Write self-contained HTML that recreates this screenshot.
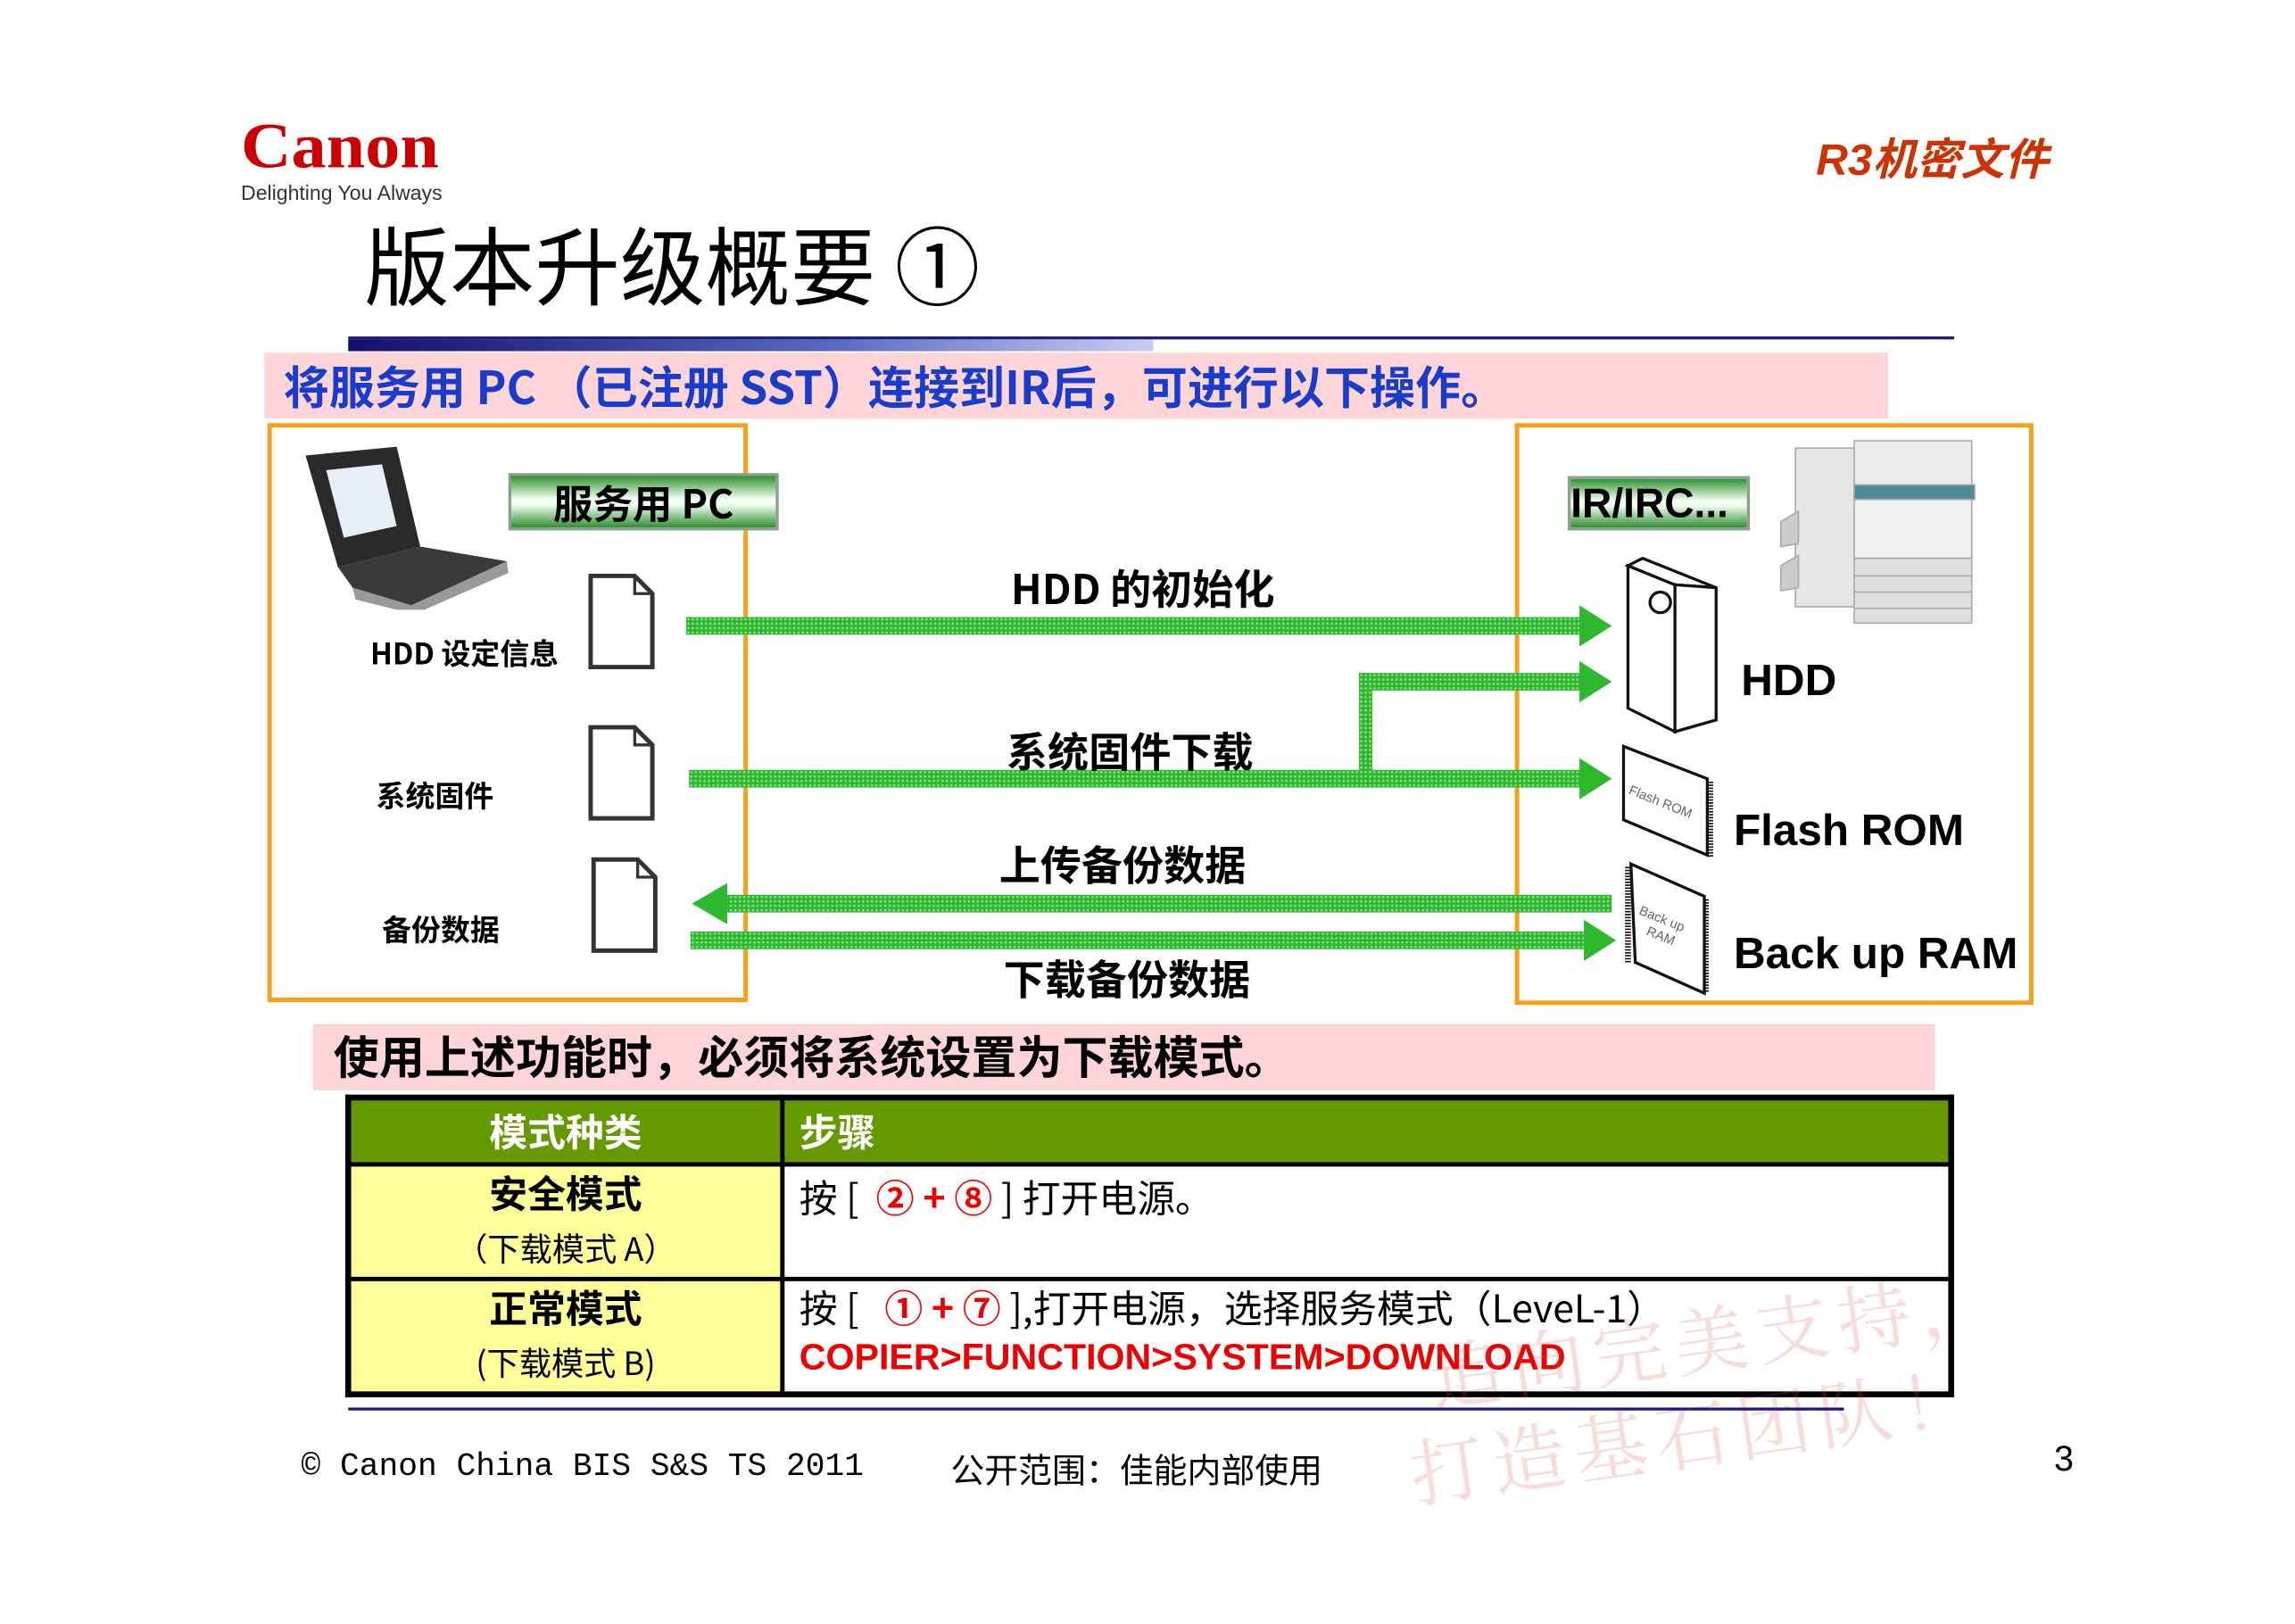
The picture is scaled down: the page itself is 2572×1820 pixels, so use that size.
<!DOCTYPE html>
<html><head><meta charset="utf-8">
<style>
html,body{margin:0;padding:0;background:#fff;}
body{width:2572px;height:1820px;overflow:hidden;position:relative;}
#w{position:absolute;left:0;top:0;width:1562px;height:1105px;transform:scale(1.6466);transform-origin:0 0;font-family:"Liberation Sans","Noto Sans CJK SC",sans-serif;}
.a{position:absolute;white-space:nowrap;}
.b{font-weight:bold;}
.lbl{font-family:"Noto Sans CJK SC","WenQuanYi Zen Hei",sans-serif;font-weight:bold;}
.box{position:absolute;border:3px solid #f7a01c;}
.glab{position:absolute;background:linear-gradient(#2f8f2f,#f4fff4 45%,#f4fff4 55%,#2f8f2f);border:2px solid #8aa08a;font-weight:bold;color:#000;text-align:center;}
.bar{position:absolute;height:12px;background-color:#2eb82e;background-image:radial-gradient(#8fe08f 35%,transparent 40%);background-size:3px 3px;}
.doc{position:absolute;width:46px;height:66px;}
td{border:3px solid #000;}
</style></head><body><div id="w">
<div class="a b" style="left:164px;top:74px;font-family:'Liberation Serif',serif;font-size:44px;color:#cc0000;letter-spacing:0px;transform:scaleX(1.08);transform-origin:0 0;">Canon</div>
<div class="a" style="left:164px;top:123px;font-size:14px;color:#333;">Delighting You Always</div>
<div class="a b" style="left:1236px;top:84px;font-size:30px;color:#cc3300;font-style:italic;">R3机密文件</div>
<div class="a" style="left:248px;top:136px;font-size:58px;color:#000;font-family:'Noto Sans CJK SC',sans-serif;">版本升级概要 ①</div>
<div class="a" style="left:237px;top:229px;width:1093px;height:2px;background:#1a1a80;"></div>
<div class="a" style="left:237px;top:231px;width:548px;height:8px;background:linear-gradient(90deg,#10106a,#5868c0 60%,#c8d0f0);"></div>
<div class="a" style="left:180px;top:240px;width:1105px;height:45px;background:#fdd5d8;"></div>
<div class="a lbl" style="left:193px;top:239px;font-size:31px;color:#1a3ccc;">将服务用 PC （已注册 SST）连接到IR后，可进行以下操作。</div>

<div class="box" style="left:182px;top:288px;width:321px;height:388px;"></div>
<div class="box" style="left:1031px;top:288px;width:347px;height:390px;"></div>

<svg class="a" style="left:200px;top:300px" width="150" height="115">
<polygon points="8,10 70,4 86,72 30,86" fill="#2a2a2a"/>
<polygon points="22,20 60,16 70,58 34,66" fill="#e8eef8"/>
<polygon points="30,86 86,72 145,82 80,112 40,100" fill="#3a3a3a"/>
<polygon points="40,100 80,112 145,82 146,90 82,118 42,108" fill="#999"/>
</svg>
<div class="glab" style="left:346px;top:322px;width:180px;height:35px;font-size:27px;line-height:35px;" ><span class="lbl">服务用 PC</span></div>
<div class="glab" style="left:1067px;top:324px;width:120px;height:33px;font-size:28px;line-height:34px;text-align:left;">IR/IRC...</div>

<svg class="doc" style="left:400px;top:390px" viewBox="0 0 46 66"><path d="M2,2 H32 L44,14 V64 H2 Z" fill="#fff" stroke="#333" stroke-width="3"/><path d="M32,2 V14 H44" fill="none" stroke="#333" stroke-width="2"/></svg>
<svg class="doc" style="left:400px;top:493px" viewBox="0 0 46 66"><path d="M2,2 H32 L44,14 V64 H2 Z" fill="#fff" stroke="#333" stroke-width="3"/><path d="M32,2 V14 H44" fill="none" stroke="#333" stroke-width="2"/></svg>
<svg class="doc" style="left:402px;top:583px" viewBox="0 0 46 66"><path d="M2,2 H32 L44,14 V64 H2 Z" fill="#fff" stroke="#333" stroke-width="3"/><path d="M32,2 V14 H44" fill="none" stroke="#333" stroke-width="2"/></svg>
<div class="a lbl" style="left:252px;top:429px;font-size:20px;">HDD 设定信息</div>
<div class="a lbl" style="left:256px;top:526px;font-size:20px;">系统固件</div>
<div class="a lbl" style="left:260px;top:617px;font-size:20px;">备份数据</div>

<div class="bar" style="left:467px;top:420px;width:610px;"></div>
<div class="bar" style="left:925px;top:458px;width:152px;"></div>
<div class="bar" style="left:925px;top:458px;width:9px;height:76px;"></div>
<div class="bar" style="left:469px;top:524px;width:608px;"></div>
<div class="bar" style="left:490px;top:609px;width:607px;"></div>
<div class="bar" style="left:470px;top:634px;width:610px;"></div>
<svg class="a" style="left:0;top:0" width="1562" height="1105">
<g fill="#2eb82e">
<polygon points="1075,412 1097,426 1075,440"/>
<polygon points="1075,450 1097,464 1075,478"/>
<polygon points="1075,516 1097,530 1075,544"/>
<polygon points="495,601 471,615 495,629"/>
<polygon points="1078,626 1100,640 1078,654"/>
</g>
<g fill="#fff" stroke="#111" stroke-width="2">
<polygon points="1108,385 1140,398 1140,498 1108,482"/>
<polygon points="1108,385 1118,380 1168,400 1140,398"/>
<polygon points="1140,398 1168,400 1168,490 1140,498"/>
<circle cx="1130" cy="410" r="7"/>
<polygon points="1105,508 1162,530 1162,582 1105,558"/>
<polygon points="1110,588 1160,610 1160,676 1113,655"/>
</g>
<g stroke="#111" stroke-width="4" stroke-dasharray="1,1"><line x1="1164" y1="532" x2="1164" y2="584"/><line x1="1161" y1="612" x2="1161" y2="676"/><line x1="1108" y1="590" x2="1108" y2="655"/></g>
<text x="1108" y="540" font-size="9" fill="#666" transform="rotate(22 1108 540)" font-family="Liberation Sans">Flash ROM</text>
<text x="1115" y="622" font-size="9" fill="#666" transform="rotate(22 1115 622)" font-family="Liberation Sans">Back up</text>
<text x="1120" y="636" font-size="9" fill="#666" transform="rotate(22 1120 636)" font-family="Liberation Sans">RAM</text>
<g stroke="#aaa" stroke-width="1">
<rect x="1222" y="305" width="44" height="108" fill="#e6e6e6"/>
<polygon points="1212,355 1224,348 1224,370 1212,372" fill="#ccc"/>
<polygon points="1212,385 1224,378 1224,400 1212,402" fill="#ccc"/>
<rect x="1262" y="300" width="80" height="40" fill="#ececec"/>
<rect x="1262" y="330" width="82" height="10" fill="#4e8a96"/>
<rect x="1262" y="340" width="80" height="40" fill="#f0f0f0"/>
<rect x="1262" y="380" width="80" height="44" fill="#e0e0e0"/>
<line x1="1262" y1="392" x2="1342" y2="392"/><line x1="1262" y1="403" x2="1342" y2="403"/><line x1="1262" y1="414" x2="1342" y2="414"/>
</g>
</svg>
<div class="a lbl" style="left:688px;top:380px;font-size:28px;">HDD 的初始化</div>
<div class="a lbl" style="left:685px;top:491px;font-size:28px;">系统固件下载</div>
<div class="a lbl" style="left:680px;top:568px;font-size:28px;">上传备份数据</div>
<div class="a lbl" style="left:683px;top:646px;font-size:28px;">下载备份数据</div>
<div class="a b" style="left:1185px;top:447px;font-size:30px;">HDD</div>
<div class="a b" style="left:1180px;top:549px;font-size:30px;">Flash ROM</div>
<div class="a b" style="left:1180px;top:633px;font-size:30px;">Back up RAM</div>

<div class="a" style="left:213px;top:697px;width:1104px;height:45px;background:#fdd5d8;"></div>
<div class="a lbl" style="left:227px;top:695px;font-size:31px;">使用上述功能时，必须将系统设置为下载模式。</div>

<table class="a" style="left:235px;top:745px;width:1095px;height:206px;border-collapse:collapse;border:4px solid #000;font-family:'Noto Sans CJK SC',sans-serif;">
<tr style="height:45px;background:#669900;color:#fff;font-weight:bold;font-size:26px;"><td style="width:290px;text-align:center;">模式种类</td><td style="padding-left:10px;">步骤</td></tr>
<tr style="height:78px;"><td style="background:#ffff99;text-align:center;line-height:34px;"><b style="font-size:26px;">安全模式</b><br><span style="font-size:22px;">（下载模式 A）</span></td><td style="vertical-align:top;padding:2px 10px;font-size:26px;">按 [ &nbsp;<span style="color:#e00;font-weight:bold;">② + ⑧</span> ] 打开电源。</td></tr>
<tr style="height:78px;"><td style="background:#ffff99;text-align:center;line-height:34px;"><b style="font-size:26px;">正常模式</b><br><span style="font-size:22px;">(下载模式 B)</span></td><td style="vertical-align:top;padding:2px 10px;font-size:26px;line-height:32px;">按 [ &nbsp; <span style="color:#e00;font-weight:bold;">① + ⑦</span> ],打开电源，选择服务模式（LeveL-1）<br><span style="color:#e00;font-weight:bold;font-family:'Liberation Sans',sans-serif;font-size:25px;">COPIER&gt;FUNCTION&gt;SYSTEM&gt;DOWNLOAD</span></td></tr>
</table>

<div class="a" style="left:978px;top:900px;font-size:50px;letter-spacing:6px;color:rgba(220,80,80,0.2);transform:rotate(-8deg);transform-origin:0 100%;font-family:'Noto Serif CJK SC',serif;">追向完美支持，</div>
<div class="a" style="left:965px;top:965px;font-size:50px;letter-spacing:6px;color:rgba(220,80,80,0.2);transform:rotate(-8deg);transform-origin:0 100%;font-family:'Noto Serif CJK SC',serif;">打造基石团队！</div>
<div class="a" style="left:237px;top:958px;width:1018px;height:2px;background:#1a1a80;"></div>
<div class="a" style="left:205px;top:986px;font-size:22px;font-family:'Liberation Mono',monospace;">© Canon China BIS S&amp;S TS 2011</div>
<div class="a" style="left:647px;top:982px;font-size:23px;font-family:'Noto Sans CJK SC',sans-serif;">公开范围：佳能内部使用</div>
<div class="a" style="left:1398px;top:980px;font-size:24px;">3</div>
</div></body></html>
